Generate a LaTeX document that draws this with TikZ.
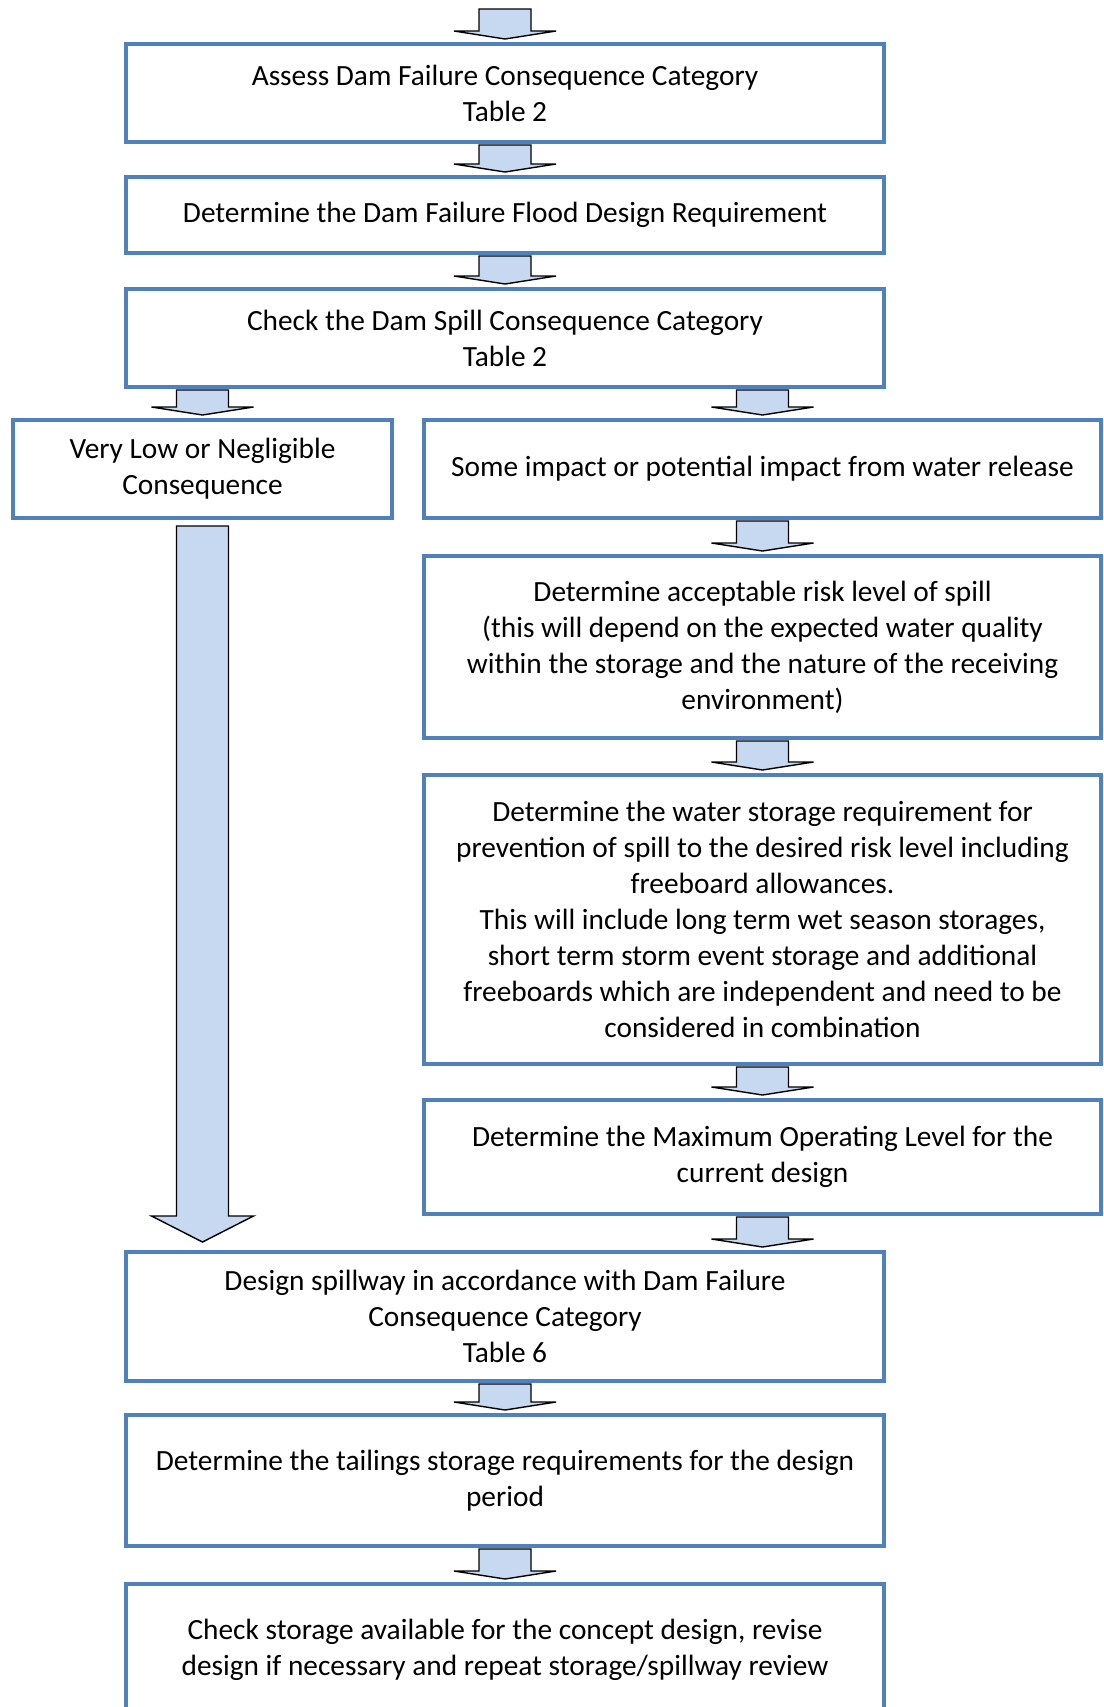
\documentclass[tikz,border=0pt]{standalone}
\usepackage{fontspec}
\setmainfont{Carlito}
\usetikzlibrary{calc}
\definecolor{boxblue}{HTML}{4F81BD}
\definecolor{arrowfill}{HTML}{C6D9F1}
\tikzset{stepbox/.style={draw=boxblue, line width=2.6pt, outer sep=0pt, inner sep=0pt,
   align=center, font=\fontsize{16.7}{20.5}\selectfont},
 barrow/.style={draw=black, fill=arrowfill, line width=0.8pt},
 }
% block arrow: x from #1, runs from #2 down to #3, head height #4
\newcommand{\blockarrow}[4]{%
  \draw[barrow] let \p1=(#1), \p2=(#2), \p3=(#3) in
    (\x1-0.52cm,\y2-0.06cm) -- (\x1+0.52cm,\y2-0.06cm)
    -- (\x1+0.52cm,\y3+0.1cm+#4) -- (\x1+1.02cm,\y3+0.1cm+#4)
    -- (\x1,\y3+0.1cm) -- (\x1-1.02cm,\y3+0.1cm+#4)
    -- (\x1-0.52cm,\y3+0.1cm+#4) -- cycle;}

\begin{document}
\begin{tikzpicture}
    \clip (0,0) rectangle (22.08,-34.14);
    \coordinate (start) at (10.10,-0.12);
    % main column
    \node[stepbox, minimum width=15.16cm, minimum height=1.96cm] (assess) at (10.10,-1.86)
        {Assess Dam Failure Consequence Category\\Table 2};
    \node[stepbox, minimum width=15.16cm, minimum height=1.52cm] (flood) at (10.10,-4.30)
        {Determine the Dam Failure Flood Design Requirement};
    \node[stepbox, minimum width=15.16cm, minimum height=1.96cm] (spill) at (10.10,-6.76)
        {Check the Dam Spill Consequence Category\\Table 2};
    % two branches
    \node[stepbox, minimum width=7.58cm, minimum height=1.96cm] (low) at (4.05,-9.38)
        {Very Low or Negligible\\Consequence};
    \node[stepbox, minimum width=13.54cm, minimum height=1.96cm] (impact) at (15.25,-9.38)
        {Some impact or potential impact from water release};
    \node[stepbox, minimum width=13.54cm, minimum height=3.64cm] (risk) at (15.25,-12.94)
        {Determine acceptable risk level of spill\\(this will depend on the expected water quality\\within the storage and the nature of the receiving\\environment)};
    \node[stepbox, minimum width=13.54cm, minimum height=5.78cm] (water) at (15.25,-18.39)
        {Determine the water storage requirement for\\prevention of spill to the desired risk level including\\freeboard allowances.\\This will include long term wet season storages,\\short term storm event storage and additional\\freeboards which are independent and need to be\\considered in combination};
    \node[stepbox, minimum width=13.54cm, minimum height=2.28cm] (mol) at (15.25,-23.14)
        {Determine the Maximum Operating Level for the\\current design};
    % back to main column
    \node[stepbox, minimum width=15.16cm, minimum height=2.58cm] (spillway) at (10.10,-26.33)
        {Design spillway in accordance with Dam Failure\\Consequence Category\\Table 6};
    \node[stepbox, minimum width=15.16cm, minimum height=2.62cm] (tailings) at (10.10,-29.61)
        {Determine the tailings storage requirements for the design\\period};
    \node[stepbox, minimum width=15.16cm, minimum height=2.64cm] (check) at (10.10,-33.00)
        {Check storage available for the concept design, revise\\design if necessary and repeat storage/spillway review};

    \blockarrow{assess}{start}{assess.north}{0.16cm}
    \blockarrow{assess}{assess.south}{flood.north}{0.16cm}
    \blockarrow{flood}{flood.south}{spill.north}{0.16cm}
    \blockarrow{low}{spill.south}{low.north}{0.16cm}
    \blockarrow{impact}{spill.south}{impact.north}{0.16cm}
    \blockarrow{impact}{impact.south}{risk.north}{0.16cm}
    \blockarrow{risk}{risk.south}{water.north}{0.16cm}
    \blockarrow{water}{water.south}{mol.north}{0.16cm}
    \blockarrow{mol}{mol.south}{spillway.north}{0.16cm}
    \blockarrow{low}{$(low.south)+(0,-0.1)$}{$(spillway.north)+(0,0.1)$}{0.52cm}
    \blockarrow{spillway}{spillway.south}{tailings.north}{0.16cm}
    \blockarrow{tailings}{tailings.south}{check.north}{0.16cm}
\end{tikzpicture}
\end{document}
